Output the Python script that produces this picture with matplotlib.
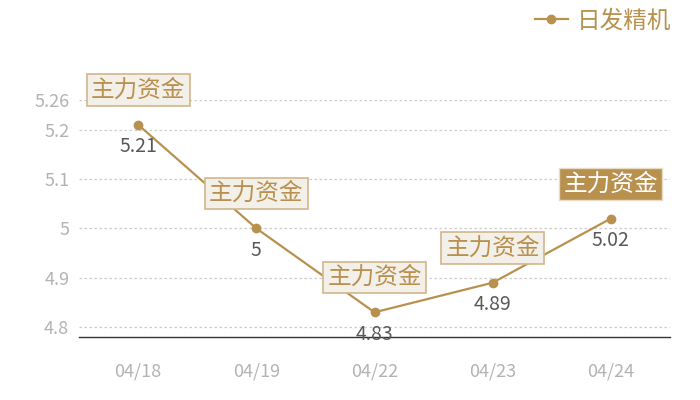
import matplotlib
matplotlib.use("Agg")
import matplotlib.pyplot as plt

plt.rcParams['font.family'] = ['Noto Sans CJK SC', 'DejaVu Sans']

# chart data
dates = ["04/18", "04/19", "04/22", "04/23", "04/24"]
prices = [5.21, 5.00, 4.83, 4.89, 5.02]
value_labels = ["5.21", "5", "4.83", "4.89", "5.02"]
y_ticks = [4.8, 4.9, 5.0, 5.1, 5.2, 5.26]
y_tick_labels = ["4.8", "4.9", "5", "5.1", "5.2", "5.26"]
series_name = "日发精机"
tag_text = "主力资金"

gold = "#b9914f"
grey = "#b3b3b3"

fig = plt.figure(figsize=(7, 4), dpi=100)
ax = fig.add_axes([79 / 700, 63 / 400, 591 / 700, 237 / 400])

x = list(range(len(dates)))
ax.plot(x, prices, color=gold, linewidth=1.6, marker="o", markersize=6,
        label=series_name, zorder=3)

ax.set_xlim(-0.5, len(dates) - 0.5)
ax.set_ylim(4.78, 5.26)
ax.set_yticks(y_ticks)
ax.set_yticklabels(y_tick_labels)
ax.set_xticks(x)
ax.set_xticklabels(dates)
ax.tick_params(axis="both", length=0, labelsize=13, colors=grey)
ax.tick_params(axis="x", pad=18)
ax.tick_params(axis="y", pad=7)

for v in y_ticks:
    ax.axhline(v, color="#cccccc", linewidth=0.9, linestyle=(0, (2, 2)), zorder=1)

for side in ["top", "right", "left"]:
    ax.spines[side].set_visible(False)
ax.spines["bottom"].set_color("#333333")
ax.spines["bottom"].set_linewidth(1.0)

# value labels below the points and tags above
last = len(dates) - 1
for i, (p, lbl) in enumerate(zip(prices, value_labels)):
    ax.annotate(lbl, (i, p), xytext=(0, -16), textcoords="offset points",
                ha="center", va="center", fontsize=14, color="#595959", zorder=4)
    if i == last:
        box = dict(boxstyle="square,pad=0.18", facecolor=gold, edgecolor="#e8dcc6", linewidth=1)
        tcolor = "white"
    else:
        box = dict(boxstyle="square,pad=0.18", facecolor="#f3efe9", edgecolor="#d2b68a", linewidth=1.2)
        tcolor = gold
    ax.annotate(tag_text, (i, p), xytext=(0, 25), textcoords="offset points",
                ha="center", va="center", fontsize=17, color=tcolor, bbox=box, zorder=5)

leg = fig.legend(loc="upper right", bbox_to_anchor=(0.99, 1.03), frameon=False,
                 fontsize=17, handlelength=1.4, handletextpad=0.4, labelcolor=gold)

fig.savefig("out.png", dpi=100)
